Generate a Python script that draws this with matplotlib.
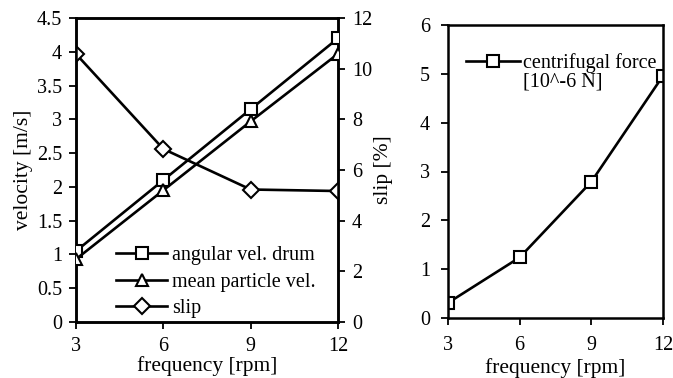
import matplotlib
matplotlib.use("Agg")
import matplotlib.pyplot as plt

plt.rcParams['font.family'] = ['Liberation Serif', 'DejaVu Serif']

freq = [3, 6, 9, 12]
angular_vel_drum = [1.05, 2.10, 3.15, 4.20]
mean_particle_vel = [0.93, 1.95, 2.97, 3.97]
slip_pct = [10.58, 6.83, 5.23, 5.17]
centrifugal_force = [0.31, 1.24, 2.79, 4.96]

fs_tick = 14.5
fs_label = 15.5
fs_leg = 14.5
lw = 1.9
mk = dict(markersize=9, markerfacecolor='white', markeredgecolor='black',
          markeredgewidth=1.5, color='black', linewidth=lw)

fig = plt.figure(figsize=(6.73, 3.78), dpi=100)

ax1 = fig.add_axes([76/673, 1-322/378, (338-76)/673, (322-18)/378])
ax2 = ax1.twinx()

l1, = ax1.plot(freq, angular_vel_drum, marker='s', label='angular vel. drum', **mk, zorder=3)
l2, = ax1.plot(freq, mean_particle_vel, marker='^', label='mean particle vel.', **mk, zorder=3)
l3, = ax2.plot(freq, slip_pct, marker='D', label='slip', **{**mk, 'markersize': 8}, zorder=3)

ax1.set_xlim(3, 12)
ax1.set_ylim(0, 4.5)
ax2.set_ylim(0, 12)
ax1.set_xticks(freq)
ax1.set_yticks([0, 0.5, 1, 1.5, 2, 2.5, 3, 3.5, 4, 4.5])
ax1.set_yticklabels(['0', '0.5', '1', '1.5', '2', '2.5', '3', '3.5', '4', '4.5'])
ax2.set_yticks([0, 2, 4, 6, 8, 10, 12])

ax1.set_xlabel('frequency [rpm]', fontsize=fs_label, labelpad=0)
ax1.set_ylabel('velocity [m/s]', fontsize=fs_label, labelpad=3)
ax2.set_ylabel('slip [%]', fontsize=fs_label, labelpad=1)

for ax in (ax1, ax2):
    ax.tick_params(direction='out', length=5, width=1.3, labelsize=fs_tick, pad=5)
    for s in ax.spines.values():
        s.set_linewidth(1.8)
ax1.tick_params(axis='x', pad=6)
ax1.set_zorder(ax2.get_zorder() + 1)
ax1.patch.set_visible(False)

leg = ax1.legend(handles=[l1, l2, l3], loc='lower left', frameon=False,
                 fontsize=fs_leg, handlelength=2.55, handletextpad=0.25,
                 labelspacing=0.38, borderpad=0.0, borderaxespad=0.0,
                 bbox_to_anchor=(0.153, 0.012))

ax3 = fig.add_axes([448/673, 1-318/378, (663-448)/673, (318-25)/378])
l4, = ax3.plot(freq, centrifugal_force, marker='s', label='centrifugal force', **mk)
ax3.set_xlim(3, 12)
ax3.set_ylim(0, 6)
ax3.set_xticks(freq)
ax3.set_yticks([0, 1, 2, 3, 4, 5, 6])
ax3.set_xlabel('frequency [rpm]', fontsize=fs_label, labelpad=2)
ax3.tick_params(direction='out', length=5, width=1.3, labelsize=fs_tick, pad=8)
ax3.tick_params(axis='x', pad=8)
for s in ax3.spines.values():
    s.set_linewidth(1.8)
ax3.legend(handles=[l4], loc='upper left', frameon=False, fontsize=fs_leg,
           handlelength=2.7, handletextpad=0.15, borderpad=0.0, borderaxespad=0.0,
           bbox_to_anchor=(0.084, 0.905))
ax3.text(0.349, 0.805, '[10^-6 N]', transform=ax3.transAxes, fontsize=fs_leg,
         ha='left', va='center')

fig.savefig('out.png', dpi=100)
